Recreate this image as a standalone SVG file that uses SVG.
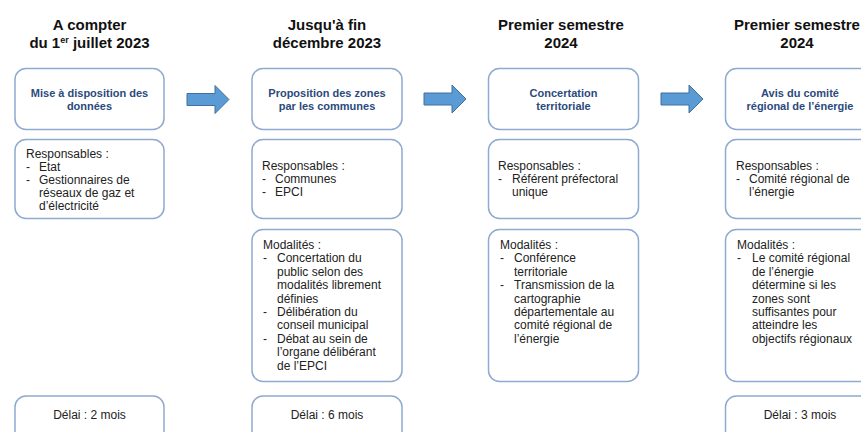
<svg xmlns="http://www.w3.org/2000/svg" width="861" height="432" viewBox="0 0 861 432">
<defs>
<style>
.box{fill:#fff;stroke:#8eaad0;stroke-width:1.5}
.hdr{font-family:"Liberation Sans",Arial,sans-serif;font-weight:bold;font-size:15px;fill:#111;text-anchor:middle}
.ttl{font-family:"Liberation Sans",Arial,sans-serif;font-weight:bold;font-size:11px;fill:#2c4a7c;text-anchor:middle}
.txt{font-family:"Liberation Sans",Arial,sans-serif;font-size:12px;fill:#222}
.mid{text-anchor:middle}
.arr{fill:#5b9bd5;stroke:#41719c;stroke-width:1}
</style>
<path id="arrow" d="M0,-6 H28 V-14 L42,0 L28,14 V6 H0 Z"/>
</defs>
<rect width="861" height="432" fill="#fff"/>

<g id="headers">
<text class="hdr" x="89.5" y="30">A compter</text>
<text class="hdr" x="89.5" y="48">du 1<tspan dy="-5" font-size="9">er</tspan><tspan dy="5"> juillet 2023</tspan></text>
<text class="hdr" x="327" y="30">Jusqu'à fin</text>
<text class="hdr" x="327" y="48">décembre 2023</text>
<text class="hdr" x="561" y="30">Premier semestre</text>
<text class="hdr" x="561" y="48">2024</text>
<text class="hdr" x="797" y="30">Premier semestre</text>
<text class="hdr" x="797" y="48">2024</text>
</g>

<g id="connectors">
<use href="#arrow" class="arr" x="187" y="99.5"/>
<use href="#arrow" class="arr" x="424" y="99"/>
<use href="#arrow" class="arr" x="661" y="99"/>
</g>

<g id="step1">
<rect class="box" x="15" y="68.5" width="149" height="61" rx="11"/>
<text class="ttl" x="89.5" y="96.5">Mise à disposition des</text>
<text class="ttl" x="89.5" y="109.5">données</text>
</g>
<g id="step1-resp">
<rect class="box" x="15" y="139.5" width="149" height="79" rx="11"/>
<text class="txt" x="26" y="158">Responsables :</text>
<text class="txt" x="26" y="171">-</text><text class="txt" x="39" y="171">Etat</text>
<text class="txt" x="26" y="184">-</text><text class="txt" x="39" y="184">Gestionnaires de</text>
<text class="txt" x="39" y="197">réseaux de gaz et</text>
<text class="txt" x="39" y="210">d’électricité</text>
</g>
<g id="step1-delai">
<rect class="box" x="15" y="396" width="149" height="50" rx="11"/>
<text class="txt mid" x="89.5" y="419">Délai : 2 mois</text>
</g>

<g id="step2">
<rect class="box" x="252" y="68.5" width="150" height="61" rx="11"/>
<text class="ttl" x="327" y="96.5">Proposition des zones</text>
<text class="ttl" x="327" y="109.5">par les communes</text>
</g>
<g id="step2-resp">
<rect class="box" x="252" y="139.5" width="150" height="79" rx="11"/>
<text class="txt" x="262" y="170">Responsables :</text>
<text class="txt" x="262" y="183">-</text><text class="txt" x="275" y="183">Communes</text>
<text class="txt" x="262" y="196">-</text><text class="txt" x="275" y="196">EPCI</text>
</g>
<g id="step2-modalites">
<rect class="box" x="252" y="229.5" width="150" height="152" rx="11"/>
<text class="txt" x="263" y="249">Modalités :</text>
<text class="txt" x="263" y="262.4">-</text><text class="txt" x="277" y="262.4">Concertation du</text>
<text class="txt" x="277" y="275.8">public selon des</text>
<text class="txt" x="277" y="289.2">modalités librement</text>
<text class="txt" x="277" y="302.6">définies</text>
<text class="txt" x="263" y="316">-</text><text class="txt" x="277" y="316">Délibération du</text>
<text class="txt" x="277" y="329.4">conseil municipal</text>
<text class="txt" x="263" y="342.8">-</text><text class="txt" x="277" y="342.8">Débat au sein de</text>
<text class="txt" x="277" y="356.2">l’organe délibérant</text>
<text class="txt" x="277" y="369.6">de l’EPCI</text>
</g>
<g id="step2-delai">
<rect class="box" x="252" y="396" width="150" height="50" rx="11"/>
<text class="txt mid" x="327" y="419">Délai : 6 mois</text>
</g>

<g id="step3">
<rect class="box" x="488.5" y="68.5" width="150" height="61" rx="11"/>
<text class="ttl" x="563.5" y="96.5">Concertation</text>
<text class="ttl" x="563.5" y="109.5">territoriale</text>
</g>
<g id="step3-resp">
<rect class="box" x="488.5" y="139.5" width="150" height="79" rx="11"/>
<text class="txt" x="498" y="170">Responsables :</text>
<text class="txt" x="498" y="183">-</text><text class="txt" x="512" y="183">Référent préfectoral</text>
<text class="txt" x="512" y="196">unique</text>
</g>
<g id="step3-modalites">
<rect class="box" x="488.5" y="229.5" width="150" height="152" rx="11"/>
<text class="txt" x="500" y="249">Modalités :</text>
<text class="txt" x="500" y="262.4">-</text><text class="txt" x="514" y="262.4">Conférence</text>
<text class="txt" x="514" y="275.8">territoriale</text>
<text class="txt" x="500" y="289.2">-</text><text class="txt" x="514" y="289.2">Transmission de la</text>
<text class="txt" x="514" y="302.6">cartographie</text>
<text class="txt" x="514" y="316">départementale au</text>
<text class="txt" x="514" y="329.4">comité régional de</text>
<text class="txt" x="514" y="342.8">l’énergie</text>
</g>

<g id="step4">
<rect class="box" x="725.5" y="68.5" width="150" height="61" rx="11"/>
<text class="ttl" x="800" y="96.5">Avis du comité</text>
<text class="ttl" x="800" y="109.5">régional de l’énergie</text>
</g>
<g id="step4-resp">
<rect class="box" x="725.5" y="139.5" width="150" height="79" rx="11"/>
<text class="txt" x="736" y="170">Responsables :</text>
<text class="txt" x="736" y="183">-</text><text class="txt" x="749" y="183">Comité régional de</text>
<text class="txt" x="749" y="196">l’énergie</text>
</g>
<g id="step4-modalites">
<rect class="box" x="725.5" y="229.5" width="150" height="152" rx="11"/>
<text class="txt" x="737" y="249">Modalités :</text>
<text class="txt" x="737" y="262.4">-</text><text class="txt" x="752" y="262.4">Le comité régional</text>
<text class="txt" x="752" y="275.8">de l’énergie</text>
<text class="txt" x="752" y="289.2">détermine si les</text>
<text class="txt" x="752" y="302.6">zones sont</text>
<text class="txt" x="752" y="316">suffisantes pour</text>
<text class="txt" x="752" y="329.4">atteindre les</text>
<text class="txt" x="752" y="342.8">objectifs régionaux</text>
</g>
<g id="step4-delai">
<rect class="box" x="725.5" y="396" width="150" height="50" rx="11"/>
<text class="txt mid" x="800" y="419">Délai : 3 mois</text>
</g>
</svg>
